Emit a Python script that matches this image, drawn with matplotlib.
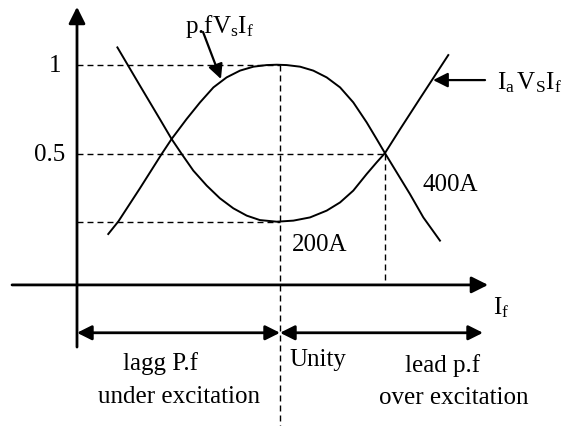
import matplotlib.pyplot as plt

plt.rcParams['font.family'] = ['Liberation Serif', 'DejaVu Serif']
plt.rcParams['mathtext.fontset'] = 'custom'
plt.rcParams['mathtext.rm'] = 'Liberation Serif'
plt.rcParams['mathtext.it'] = 'Liberation Serif:italic'

# V curve (armature current), x = field current (unity pf at 1)
ia_x = [0.199, 0.310, 0.409, 0.466, 0.516, 0.573, 0.639, 0.704, 0.770, 0.836,
        0.901, 0.984, 1.066, 1.148, 1.230, 1.296, 1.361, 1.427, 1.476, 1.517,
        1.591, 1.690, 1.829]
ia_y = [1.097, 0.883, 0.694, 0.584, 0.500, 0.407, 0.323, 0.252, 0.196, 0.155,
        0.130, 0.121, 0.127, 0.145, 0.183, 0.229, 0.295, 0.388, 0.453, 0.505,
        0.638, 0.812, 1.054]

# power factor curve
pf_x = [0.154, 0.204, 0.310, 0.417, 0.466, 0.540, 0.606, 0.672, 0.737, 0.803,
        0.869, 0.934, 0.984, 1.033, 1.099, 1.164, 1.230, 1.296, 1.361, 1.427,
        1.476, 1.517, 1.575, 1.640, 1.706, 1.788]
pf_y = [0.052, 0.123, 0.308, 0.500, 0.584, 0.696, 0.789, 0.873, 0.929, 0.967,
        0.989, 0.998, 1.000, 0.998, 0.989, 0.967, 0.929, 0.873, 0.789, 0.677,
        0.584, 0.505, 0.397, 0.276, 0.145, 0.015]

y_ticks = [1, 0.5]
y_tick_labels = ['1', '0.5']
unity_x = 1.0
cross_x = 1.517
ia_min = 0.121

fig = plt.figure(figsize=(5.64, 4.27), dpi=100)
ax = fig.add_axes([0, 0, 1, 1])
ax.set_xlim(-0.3793, 2.399)
ax.set_ylim(-1.023, 1.368)
ax.axis('off')

dash = dict(color='black', lw=1.0, dashes=(4.3, 2.9))
curve = dict(color='black', lw=1.4)

# dashed guide lines
ax.plot([0, unity_x], [1, 1], **dash)
ax.plot([0, cross_x], [0.5, 0.5], **dash)
ax.plot([0, unity_x], [ia_min, ia_min], **dash)
ax.plot([unity_x, unity_x], [1, -1.1], **dash)
ax.plot([cross_x, cross_x], [0.5, -0.233], **dash)

# curves
ax.plot(ia_x, ia_y, **curve)
ax.plot(pf_x, pf_y, **curve)

# axes with arrows
axis_arrow = dict(arrowstyle='-|>', color='black', lw=2.0, mutation_scale=25,
                  shrinkA=0, shrinkB=0)
ax.annotate('', xy=(0, 1.324), xytext=(0, -0.581), arrowprops=axis_arrow)
ax.annotate('', xy=(2.025, -0.233), xytext=(-0.320, -0.233), arrowprops=axis_arrow)

# range arrows
range_arrow = dict(arrowstyle='<|-|>', color='black', lw=2.0, mutation_scale=22,
                   shrinkA=0, shrinkB=0)
ax.annotate('', xy=(unity_x, -0.501), xytext=(0, -0.501), arrowprops=range_arrow)
ax.annotate('', xy=(2.0, -0.501), xytext=(unity_x, -0.501), arrowprops=range_arrow)

# label arrows
lab_arrow = dict(arrowstyle='-|>', color='black', lw=1.6, mutation_scale=22,
                 shrinkA=0, shrinkB=0)
ax.annotate('', xy=(0.709, 0.920), xytext=(0.621, 1.183), arrowprops=lab_arrow)
ax.annotate('', xy=(1.754, 0.914), xytext=(2.010, 0.914), arrowprops=lab_arrow)

fs = 18
for v, lab, xr in zip(y_ticks, y_tick_labels, [-0.079, -0.059]):
    ax.text(xr, v, lab, ha='right', va='center', fontsize=fs)

ax.text(0.532, 1.222, r'p.fV$_{\rm s}$I$_{\rm f}$', ha='left', va='center', fontsize=fs)
ax.text(2.069, 0.905, r'I$_{\rm a}\,$V$_{\rm S}$I$_{\rm f}$', ha='left', va='center',
        fontsize=fs)
ax.text(1.704, 0.332, '400A', ha='left', va='center', fontsize=fs)
ax.text(1.059, -0.004, '200A', ha='left', va='center', fontsize=fs)
ax.text(2.049, -0.356, r'I$_{\rm f}$', ha='left', va='center', fontsize=fs)
ax.text(0.411, -0.665, 'lagg P.f', ha='center', va='center', fontsize=fs)
ax.text(0.502, -0.855, 'under excitation', ha='center', va='center', fontsize=fs)
ax.text(1.049, -0.648, 'Unity', ha='left', va='center', fontsize=fs)
ax.text(1.803, -0.676, 'lead p.f', ha='center', va='center', fontsize=fs)
ax.text(1.857, -0.861, 'over excitation', ha='center', va='center', fontsize=fs)

fig.savefig('out.png', dpi=100)
